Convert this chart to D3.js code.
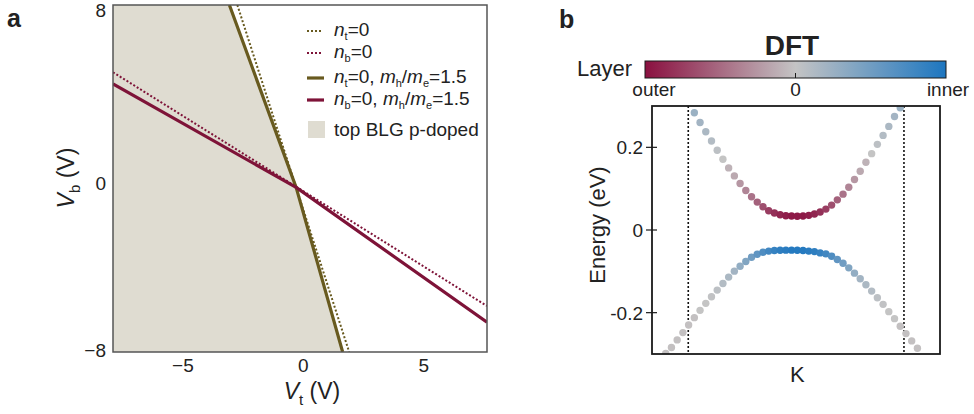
<!DOCTYPE html>
<html><head><meta charset="utf-8">
<script src="https://cdn.jsdelivr.net/npm/d3@7"></script>
<style>body{margin:0;background:#fff}svg{font-family:"Liberation Sans",Arial,sans-serif}</style>
</head><body><svg id="c" width="974" height="414"></svg>
<script>
// ---------- Panel a data ----------
const aXTicks = [-5, 0, 5];
const aYTicks = [8, 0, -8];
const ntZero = [[-2.74, 8], [1.90, -8]];                 // n_t = 0 (dotted)
const nbZero = [[-7.9, 4.90], [7.62, -5.88]];            // n_b = 0 (dotted)
const ntMass = [[-3.07, 8], [-0.30, -0.41], [1.63, -8]]; // n_t = 0, mh/me = 1.5
const nbMass = [[-7.9, 4.36], [-0.30, -0.41], [7.62, -6.63]]; // n_b = 0, mh/me = 1.5

// ---------- Panel b data ----------
const kUpper = [-18,-17,-16,-15,-14,-13,-12,-11,-10,-9,-8,-7,-6,-5,-4,-3,-2,-1,0,1,2,3,4,5,6,7,8,9,10,11,12,13,14,15,16,17,18];
const eUpper = [0.2836,0.260,0.2378,0.2152,0.1928,0.1711,0.1502,0.1309,0.1124,0.0956,0.0803,0.0675,0.0562,0.0466,0.041,0.0369,0.0345,0.0337,0.0333,
                0.0337,0.0354,0.0386,0.0434,0.0506,0.0602,0.073,0.0867,0.1036,0.1221,0.1422,0.1639,0.1847,0.2072,0.2289,0.2506,0.2747,0.2956];
const wUpper = [0.25,0.2,0.15,0.1,0.05,0.0,-0.1,-0.15,-0.25,-0.35,-0.45,-0.55,-0.65,-0.75,-0.82,-0.88,-0.92,-0.95,-0.95,
                -0.95,-0.92,-0.88,-0.82,-0.75,-0.65,-0.55,-0.45,-0.35,-0.25,-0.15,-0.1,0.0,0.05,0.1,0.15,0.2,0.25];
const kLower = [-23,-22,-21,-20,-19,-18,-17,-16,-15,-14,-13,-12,-11,-10,-9,-8,-7,-6,-5,-4,-3,-2,-1,0,1,2,3,4,5,6,7,8,9,10,11,12,13,14,15,16,17,18,19,20,21];
const eLower = [-0.2988,-0.2843,-0.2659,-0.2482,-0.2297,-0.212,-0.1944,-0.1775,-0.1614,-0.1454,-0.1293,-0.114,-0.0996,-0.0876,-0.0763,-0.0659,-0.0586,-0.0538,-0.0510,-0.0496,-0.0490,-0.0487,-0.0487,
                -0.0490,-0.0497,-0.0510,-0.0522,-0.0554,-0.0578,-0.0635,-0.0715,-0.0803,-0.0916,-0.1044,-0.1181,-0.1325,-0.1478,-0.1639,-0.1799,-0.1976,-0.2145,-0.2329,-0.2506,-0.2683,-0.286];
const wLower = [-0.02,-0.02,-0.02,-0.02,-0.02,-0.02,0,0,0.02,0.05,0.1,0.15,0.2,0.3,0.4,0.5,0.6,0.7,0.78,0.85,0.9,0.92,0.95,
                0.95,0.95,0.92,0.9,0.85,0.78,0.7,0.6,0.5,0.4,0.3,0.2,0.15,0.1,0.05,0.02,0,0,-0.02,-0.02,-0.02,-0.02];
const bYTicks = [0.2, 0, -0.2];
const kMarks = [-19.06, 18.65];

// ---------- styles ----------
const olive = "#685a1f", wine = "#7e1338", fillCol = "#dfdcd1";
const cmap = d3.scaleLinear().domain([-1, 0, 1]).range(["#8a1040", "#c4c4c4", "#1d76c0"]);

const svg = d3.select("#c");

// ================= Panel a =================
const ax = d3.scaleLinear().domain([-7.9, 7.62]).range([113, 487]);
const ay = d3.scaleLinear().domain([-8, 8]).range([352, 5]);
const line = d3.line().x(d => ax(d[0])).y(d => ay(d[1]));

svg.append("clipPath").attr("id", "clipA").append("rect")
  .attr("x", 113).attr("y", 5).attr("width", 374).attr("height", 347);
const ga = svg.append("g").attr("clip-path", "url(#clipA)");
const shade = [[ax.domain()[0], 8]].concat(ntMass).concat([[ax.domain()[0], -8]]);
ga.append("path").attr("d", line(shade) + "Z").attr("fill", fillCol);
ga.append("path").attr("d", line(ntZero)).attr("fill", "none").attr("stroke", olive).attr("stroke-width", 2).attr("stroke-dasharray", "2,2");
ga.append("path").attr("d", line(nbZero)).attr("fill", "none").attr("stroke", wine).attr("stroke-width", 2).attr("stroke-dasharray", "2,2");
ga.append("path").attr("d", line(ntMass)).attr("fill", "none").attr("stroke", olive).attr("stroke-width", 3.2);
ga.append("path").attr("d", line(nbMass)).attr("fill", "none").attr("stroke", wine).attr("stroke-width", 3.2);

svg.append("rect").attr("x", 113).attr("y", 5).attr("width", 374).attr("height", 347)
  .attr("fill", "none").attr("stroke", "#555").attr("stroke-width", 1.5);

const fmt = v => (v < 0 ? "\u2212" + Math.abs(v) : String(v));
svg.selectAll(".axt").data(aXTicks).join("text")
  .attr("x", d => ax(d)).attr("y", 372).attr("text-anchor", "middle")
  .attr("font-size", 19).attr("fill", "#222").text(fmt);
const aYOff = {"8": 12, "0": 11.5, "-8": 5};
svg.selectAll(".ayt").data(aYTicks).join("text")
  .attr("x", 106).attr("y", d => ay(d) + aYOff[String(d)]).attr("text-anchor", "end")
  .attr("font-size", 19).attr("fill", "#222").text(fmt);

// axis labels a
const xl = svg.append("text").attr("x", 312).attr("y", 399).attr("text-anchor", "middle").attr("font-size", 23).attr("fill", "#222");
xl.append("tspan").attr("font-style", "italic").text("V");
xl.append("tspan").attr("font-size", 15).attr("dy", 6).text("t");
xl.append("tspan").attr("dy", -6).text(" (V)");
const yl = svg.append("text").attr("transform", "translate(74,178) rotate(-90)").attr("text-anchor", "middle").attr("font-size", 23).attr("fill", "#222");
yl.append("tspan").attr("font-style", "italic").text("V");
yl.append("tspan").attr("font-size", 15).attr("dy", 6).text("b");
yl.append("tspan").attr("dy", -6).text(" (V)");

// legend
const legRows = [
  {y: 31, col: olive, dash: true, sub1: "t", rest: false},
  {y: 53, col: wine, dash: true, sub1: "b", rest: false},
  {y: 78, col: olive, dash: false, sub1: "t", rest: true},
  {y: 100, col: wine, dash: false, sub1: "b", rest: true}
];
legRows.forEach(r => {
  svg.append("line").attr("x1", 307).attr("x2", r.dash ? 322 : 324).attr("y1", r.y).attr("y2", r.y)
    .attr("stroke", r.col).attr("stroke-width", r.dash ? 2 : 3.2)
    .attr("stroke-dasharray", r.dash ? "2,2" : null);
  const t = svg.append("text").attr("x", 334).attr("y", r.y + 5).attr("font-size", 19).attr("fill", "#222");
  t.append("tspan").attr("font-style", "italic").text("n");
  t.append("tspan").attr("font-size", 11).attr("dy", 4).text(r.sub1);
  t.append("tspan").attr("dy", -4).text(r.rest ? "=0, " : "=0");
  if (r.rest) {
    t.append("tspan").attr("font-style", "italic").text("m");
    t.append("tspan").attr("font-size", 11).attr("dy", 4).text("h");
    t.append("tspan").attr("dy", -4).text("/");
    t.append("tspan").attr("font-style", "italic").text("m");
    t.append("tspan").attr("font-size", 11).attr("dy", 4).text("e");
    t.append("tspan").attr("dy", -4).text("=1.5");
  }
});
svg.append("rect").attr("x", 308).attr("y", 121).attr("width", 17).attr("height", 17).attr("fill", fillCol);
svg.append("text").attr("x", 334).attr("y", 136).attr("font-size", 19).attr("fill", "#222").text("top BLG p-doped");

svg.append("text").attr("x", 7).attr("y", 27).attr("font-size", 25).attr("font-weight", "bold").attr("fill", "#222").text("a");

// ================= Panel b =================
const bx = d3.scaleLinear().domain([-25.4, 24.95]).range([652, 940]);
const by = d3.scaleLinear().domain([-0.3, 0.3]).range([354, 106]);

svg.append("clipPath").attr("id", "clipB").append("rect")
  .attr("x", 652).attr("y", 106).attr("width", 288).attr("height", 248);
const gb = svg.append("g").attr("clip-path", "url(#clipB)");
kMarks.forEach(k => {
  gb.append("line").attr("x1", bx(k)).attr("x2", bx(k)).attr("y1", 106).attr("y2", 354)
    .attr("stroke", "#111").attr("stroke-width", 1.6).attr("stroke-dasharray", "2,2");
});
const lowerPts = kLower.map((k, i) => ({k, e: eLower[i], w: wLower[i]}));
const upperPts = kUpper.map((k, i) => ({k, e: eUpper[i], w: wUpper[i]}));
gb.selectAll(".lo").data(lowerPts).join("circle")
  .attr("cx", d => bx(d.k)).attr("cy", d => by(d.e)).attr("r", 3.7).attr("fill", d => cmap(d.w));
gb.selectAll(".up").data(upperPts).join("circle")
  .attr("cx", d => bx(d.k)).attr("cy", d => by(d.e)).attr("r", 3.7).attr("fill", d => cmap(d.w));

svg.append("rect").attr("x", 652).attr("y", 106).attr("width", 288).attr("height", 248)
  .attr("fill", "none").attr("stroke", "#1a1a1a").attr("stroke-width", 1.8);
bYTicks.forEach(v => {
  svg.append("line").attr("x1", 646).attr("x2", 657).attr("y1", by(v)).attr("y2", by(v))
    .attr("stroke", "#1a1a1a").attr("stroke-width", 1.2);
});
svg.selectAll(".byt").data(bYTicks).join("text")
  .attr("x", 643).attr("y", d => by(d) + 7).attr("text-anchor", "end")
  .attr("font-size", 19).attr("fill", "#222").text(d => d === 0 ? "0" : String(d));
svg.append("text").attr("transform", "translate(605,225) rotate(-90)").attr("text-anchor", "middle")
  .attr("font-size", 22).attr("fill", "#222").text("Energy (eV)");
svg.append("text").attr("x", bx(0)).attr("y", 382).attr("text-anchor", "middle")
  .attr("font-size", 22).attr("fill", "#222").text("K");

// colorbar
const defs = svg.append("defs");
const grad = defs.append("linearGradient").attr("id", "cb").attr("x1", "0%").attr("x2", "100%");
d3.range(0, 1.0001, 0.1).forEach(t => {
  grad.append("stop").attr("offset", (t * 100) + "%").attr("stop-color", cmap(-1 + 2 * t));
});
const cbx = d3.scaleLinear().domain([-1, 1]).range([645, 946]);
svg.append("rect").attr("x", 645).attr("y", 61).attr("width", 301).attr("height", 17)
  .attr("fill", "url(#cb)").attr("stroke", "#1a1a1a").attr("stroke-width", 1);
svg.append("line").attr("x1", cbx(0)).attr("x2", cbx(0)).attr("y1", 78).attr("y2", 73)
  .attr("stroke", "#1a1a1a").attr("stroke-width", 1);
const cbLabels = [{v: -1, t: "outer"}, {v: 0, t: "0"}, {v: 1, t: "inner"}];
svg.selectAll(".cbl").data(cbLabels).join("text")
  .attr("x", d => cbx(d.v) + (d.v === -1 ? 9 : d.v === 1 ? 2 : 0)).attr("y", 96).attr("text-anchor", "middle")
  .attr("font-size", 19).attr("fill", "#222").text(d => d.t);
svg.append("text").attr("x", 632).attr("y", 76).attr("text-anchor", "end").attr("font-size", 22).attr("fill", "#222").text("Layer");
svg.append("text").attr("x", 792).attr("y", 55).attr("text-anchor", "middle").attr("font-size", 28)
  .attr("font-weight", "bold").attr("fill", "#222").text("DFT");
svg.append("text").attr("x", 559).attr("y", 28).attr("font-size", 25).attr("font-weight", "bold").attr("fill", "#222").text("b");
</script></body></html>
